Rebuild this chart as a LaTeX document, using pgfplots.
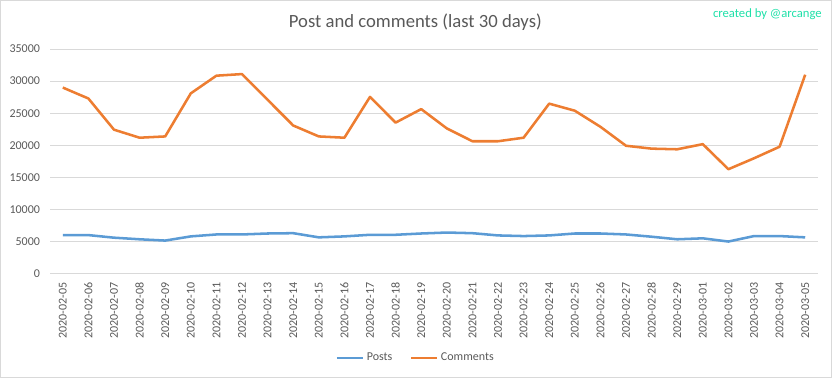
\documentclass[border=0pt]{standalone}
\usepackage{pgfplots}
\pgfplotsset{compat=1.18}
\usepackage{pgfplotstable}
\usepackage{fontspec}
\setmainfont{Carlito}
\definecolor{postc}{HTML}{5B9BD5}
\definecolor{commc}{HTML}{ED7D31}
\definecolor{gridc}{HTML}{D9D9D9}
\definecolor{txtc}{HTML}{595959}
\definecolor{greenc}{HTML}{1EE0A8}
\pgfplotstableread{
x posts comments
0 6050 29000
1 6050 27300
2 5650 22450
3 5400 21200
4 5200 21400
5 5850 28100
6 6150 30850
7 6150 31100
8 6300 27100
9 6350 23100
10 5700 21400
11 5850 21200
12 6100 27550
13 6100 23550
14 6300 25650
15 6450 22650
16 6350 20650
17 6000 20650
18 5900 21200
19 6000 26500
20 6300 25400
21 6300 22900
22 6150 19950
23 5800 19500
24 5400 19400
25 5550 20200
26 5050 16300
27 5900 18000
28 5900 19800
29 5700 31000
}\datatable
\begin{document}
\begin{tikzpicture}
\useasboundingbox (-37.5pt,-78pt) rectangle (586.5pt,205.5pt);
\draw[gridc, line width=0.75pt] (-37.125pt,-77.625pt) rectangle (586.125pt,205.125pt);
\begin{axis}[
  at={(0,0)}, anchor=south west,
  scale only axis, width=576pt, height=168.75pt,
  xmin=-0.5, xmax=29.5, ymin=0, ymax=35000,
  ytick={0,5000,...,35000},
  scaled y ticks=false,
  xtick={0,...,29},
  xticklabels={2020-02-05,2020-02-06,2020-02-07,2020-02-08,2020-02-09,2020-02-10,2020-02-11,2020-02-12,2020-02-13,2020-02-14,2020-02-15,2020-02-16,2020-02-17,2020-02-18,2020-02-19,2020-02-20,2020-02-21,2020-02-22,2020-02-23,2020-02-24,2020-02-25,2020-02-26,2020-02-27,2020-02-28,2020-02-29,2020-03-01,2020-03-02,2020-03-03,2020-03-04,2020-03-05},
  xticklabel style={yshift=-3pt, rotate=90, anchor=east, font=\fontsize{9}{10}\selectfont, text=txtc},
  yticklabel style={xshift=-4pt, font=\fontsize{9}{10}\selectfont, text=txtc},
  /pgf/number format/assume math mode=true,
  /pgf/number format/fixed,
  /pgf/number format/1000 sep={},
  ymajorgrids,
  grid style={draw=gridc, line width=0.75pt},
  axis line style={draw=none},
  major tick length=0pt,
  legend columns=2,
  legend style={at={(0.4766,-0.3733)}, anchor=center, draw=none, fill=none,
    font=\fontsize{9}{10}\selectfont, text=txtc,
    /tikz/every even column/.append style={column sep=11pt}},
  legend image code/.code={\draw[#1] (0pt,0pt) -- (19.5pt,0pt);},
  clip=false,
]
\addplot[postc, line width=1.9pt, line join=round] table[x=x, y=posts] {\datatable};
\addlegendentry{Posts}
\addplot[commc, line width=1.9pt, line join=round] table[x=x, y=comments] {\datatable};
\addlegendentry{Comments}
\end{axis}
\node[text=txtc, font=\fontsize{14}{16}\selectfont] at (274pt,189pt) {Post and comments (last 30 days)};
\node[text=greenc, font=\fontsize{9.5}{11}\selectfont, anchor=east, inner sep=0pt] at (579pt,195pt) {created by @arcange};
\end{tikzpicture}
\end{document}
